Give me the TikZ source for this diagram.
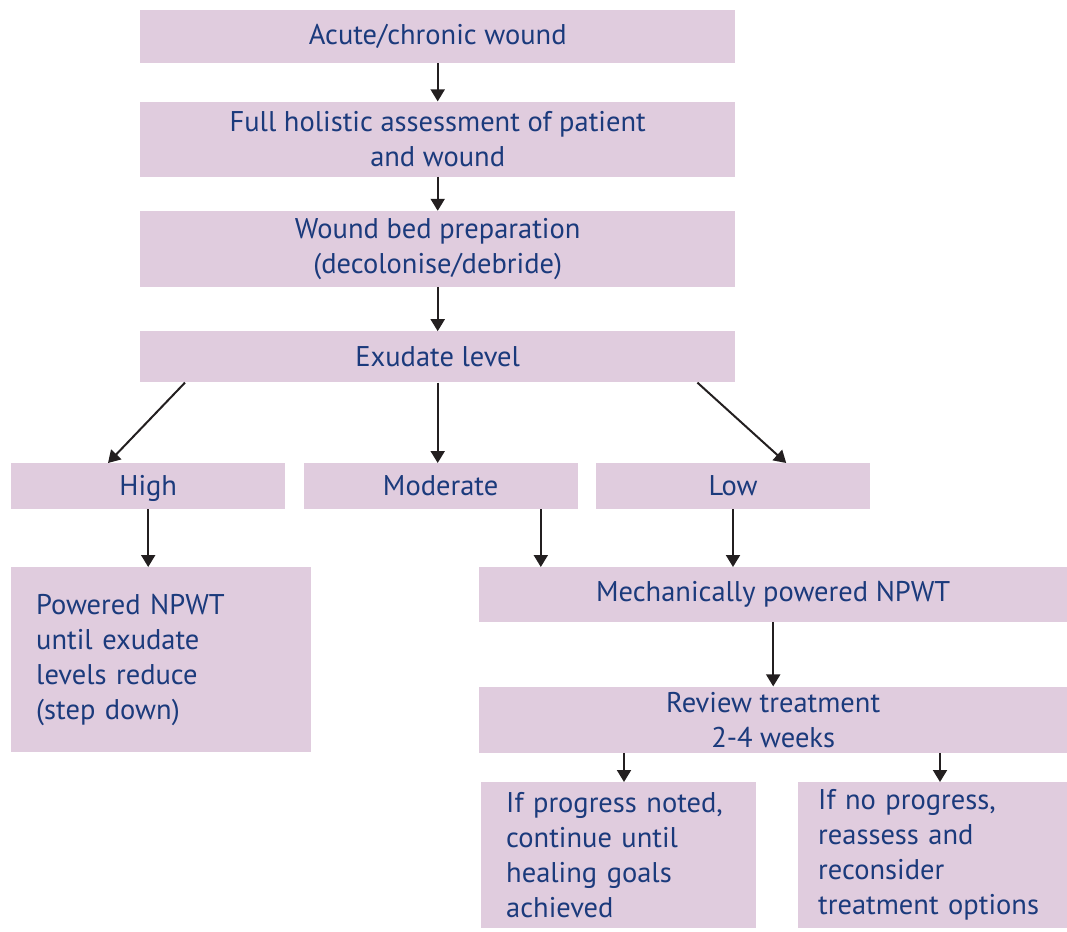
\documentclass[tikz,border=0pt]{standalone}
\usepackage{fontspec}
\setmainfont{PT Sans}
\usetikzlibrary{arrows.meta, calc, positioning}
\definecolor{Mauve}{HTML}{E0CCDE}
\definecolor{Navy}{HTML}{1B3A7C}
\definecolor{Ink}{HTML}{231F20}
\tikzset{%
  stage/.style={%
    rectangle,%
    fill=Mauve,%
    text=Navy,%
    inner sep=0pt,%
    align=center,%
    font={\fontsize{28.5}{35}\selectfont},%
  },
  wide_stage/.style={%
    stage,%
    minimum width=595pt,%
  },
  level_stage/.style={%
    stage,%
    minimum width=274pt,%
    minimum height=46pt,%
    text height=22pt,%
    text depth=4pt,%
  },
  note_stage/.style={%
    stage,%
    align=left,%
    inner xsep=25pt,%
    anchor=north west,%
  },
  arrow/.style={%
    draw=Ink,%
    line width=2pt,%
    -{Triangle[length=12pt, width=14pt]},%
  },
}

\begin{document}
\begin{tikzpicture}[x=1pt, y=-1pt]
    \useasboundingbox (0,0) rectangle (1067,931);

    \node [wide_stage, minimum height=53pt, anchor=north west] (acute) at (140,10) {Acute/chronic wound};
    \node [wide_stage, minimum height=75pt, below = 38pt of acute] (holistic) {Full holistic assessment of patient\\and wound};
    \node [wide_stage, minimum height=76pt, below = 34pt of holistic] (woundbed) {Wound bed preparation\\(decolonise/debride)};
    \node [wide_stage, minimum height=51pt, below = 44pt of woundbed] (exudate) {Exudate level};

    \node [level_stage, anchor=north west] (high) at (11,463) {High};
    \node [level_stage, right = 18pt of high] (moderate) {Moderate};
    \node [level_stage, right = 18pt of moderate] (low) {Low};

    \node [note_stage, text width=250pt, minimum height=185pt] (powered) at (11,567) {Powered NPWT\\until exudate\\levels reduce\\(step down)};
    \node [stage, minimum width=588pt, minimum height=55pt, anchor=north west] (mechanical) at (479,567) {Mechanically powered NPWT};
    \node [stage, minimum width=588pt, minimum height=66pt, below = 64pt of mechanical] (review) {Review treatment\\2-4 weeks};
    \node [note_stage, text width=225pt, minimum height=146pt] (progress) at (481,782) {If progress noted,\\continue until\\healing goals\\achieved};
    \node [note_stage, text width=229pt, inner xsep=20pt, minimum height=146pt] (noprogress) at (798,782) {If no progress,\\reassess and\\reconsider\\treatment options};

    \draw [arrow] (acute) -- (holistic);
    \draw [arrow] (holistic) -- (woundbed);
    \draw [arrow] (woundbed) -- (exudate);
    \draw [arrow]
      ([xshift=45pt]exudate.south west)
      --
      ([xshift=97pt]high.north west);
    \draw [arrow] (exudate) -- (exudate |- moderate.north);
    \draw [arrow]
      ([xshift=-38pt]exudate.south east)
      --
      ([xshift=-84pt]low.north east);
    \draw [arrow] (high) -- (high |- powered.north);
    \draw [arrow]
      ([xshift=-37pt]moderate.south east)
      --
      ([xshift=-37pt]moderate.south east |- mechanical.north);
    \draw [arrow] (low) -- (low |- mechanical.north);
    \draw [arrow] (mechanical) -- (review);
    \draw [arrow]
      ([xshift=145pt]review.south west)
      --
      ([xshift=145pt]review.south west |- progress.north);
    \draw [arrow]
      ([xshift=461pt]review.south west)
      --
      ([xshift=461pt]review.south west |- noprogress.north);
\end{tikzpicture}
\end{document}
